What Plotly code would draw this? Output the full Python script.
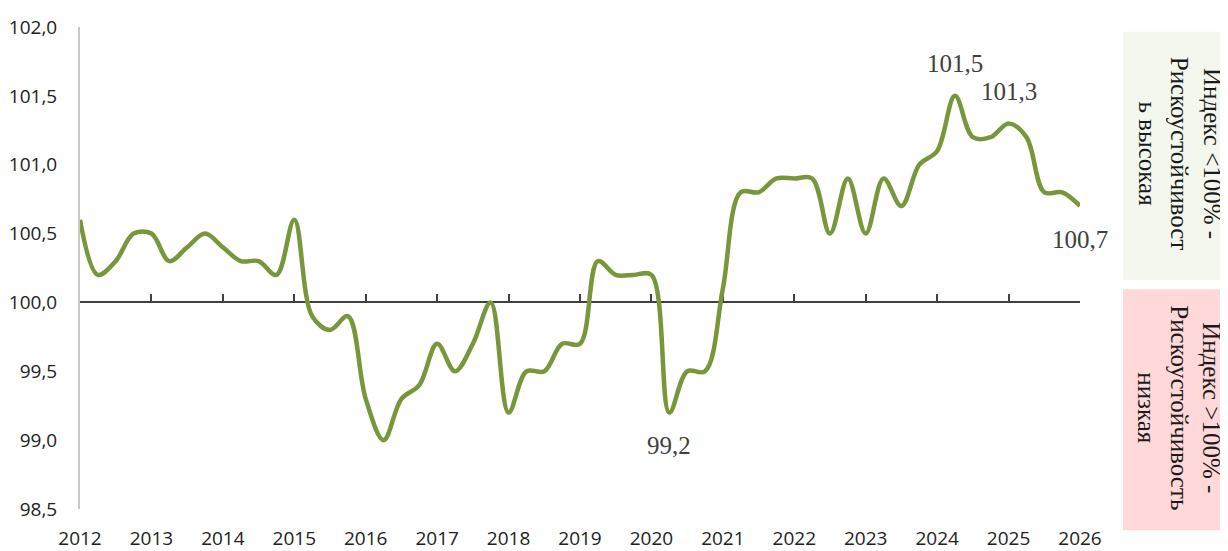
import pandas as pd
import plotly.graph_objects as go

# ---- data ----
quarters = pd.period_range("2012Q1", "2026Q1", freq="Q")
index_values = [
    100.6, 100.2, 100.3, 100.5,   # 2012
    100.5, 100.3, 100.4, 100.5,   # 2013
    100.4, 100.3, 100.3, 100.2,   # 2014
    100.6, 99.9, 99.8, 99.9,      # 2015
    99.3, 99.0, 99.3, 99.4,       # 2016
    99.7, 99.5, 99.7, 100.0,      # 2017
    99.2, 99.5, 99.5, 99.7,       # 2018
    99.7, 100.3, 100.2, 100.2,    # 2019
    100.2, 99.2, 99.5, 99.5,      # 2020
    100.1, 100.8, 100.8, 100.9,   # 2021
    100.9, 100.9, 100.5, 100.9,   # 2022
    100.5, 100.9, 100.7, 101.0,   # 2023
    101.1, 101.5, 101.2, 101.2,   # 2024
    101.3, 101.2, 100.8, 100.8,   # 2025
    100.7,                        # 2026
]
year_ticks = list(range(2012, 2027))
y_ticks = [98.5, 99.0, 99.5, 100.0, 100.5, 101.0, 101.5, 102.0]
labelled = {"2020Q2": "below", "2024Q2": "above", "2025Q1": "above", "2026Q1": "below"}
box_high = ["Индекс <100% -", "Рискоустойчивост", "ь высокая"]
box_low = ["Индекс >100% -", "Рискоустойчивость", "низкая"]

x_pos = [p.year + (p.quarter - 1) / 4 for p in quarters]

Y_MIN, Y_MAX = 98.5, 102.0
LINE_GREEN = "#77973A"

fig = go.Figure()
fig.add_trace(go.Scatter(
    x=x_pos, y=index_values, mode="lines",
    line=dict(color=LINE_GREEN, width=4.5, shape="spline", smoothing=1.0),
    cliponaxis=False, showlegend=False, hoverinfo="skip",
))
# dummy trace so the reference axis at 100 is drawn
fig.add_trace(go.Scatter(x=[], y=[], xaxis="x2", showlegend=False, hoverinfo="skip"))

def fmt(v):
    return f"{v:.1f}".replace(".", ",")

annotations = []
q_labels = [str(p) for p in quarters]
for q, pos in labelled.items():
    i = q_labels.index(q)
    annotations.append(dict(
        x=x_pos[i], y=index_values[i], xref="x", yref="y",
        text=fmt(index_values[i]), showarrow=False,
        xanchor="center", yanchor="middle",
        yshift=32 if pos == "above" else -33,
        font=dict(family="Liberation Serif", size=25, color="#404040"),
    ))

# side boxes
shapes = [
    dict(type="rect", xref="paper", yref="paper", x0=1.043, x1=1.16, y0=0.475, y1=0.99,
         fillcolor="#F4F7EE", line=dict(width=0), layer="below"),
    dict(type="rect", xref="paper", yref="paper", x0=1.043, x1=1.16, y0=-0.044, y1=0.456,
         fillcolor="#FFD9D9", line=dict(width=0), layer="below"),
]
for lines, yc in ((box_high, 0.738), (box_low, 0.21)):
    annotations.append(dict(
        x=1.0995, y=yc, xref="paper", yref="paper", text="<br>".join(lines),
        showarrow=False, textangle=90, align="center",
        xanchor="center", yanchor="middle",
        font=dict(family="Liberation Serif", size=25, color="#1a1a1a"),
    ))

# page body has an 8px margin: figure is sized so the plot lands where the reference has it
fig.update_layout(
    width=1220, height=543,
    margin=dict(l=72, r=148, t=19, b=42, autoexpand=False),
    paper_bgcolor="white", plot_bgcolor="white",
    showlegend=False,
    font=dict(family="Open Sans", size=19, color="#222222"),
    xaxis=dict(
        range=[2012, 2026], tickvals=year_ticks, ticktext=[str(y) for y in year_ticks],
        showline=False, showgrid=False, zeroline=False, automargin=False,
        ticks="outside", ticklen=12, tickcolor="rgba(0,0,0,0)",
        tickfont=dict(family="Open Sans", size=19, color="#222222"),
    ),
    xaxis2=dict(
        range=[2012, 2026], tickvals=year_ticks, overlaying="x", anchor="free",
        position=(100 - Y_MIN) / (Y_MAX - Y_MIN), automargin=False,
        showline=True, linecolor="#404040", linewidth=2,
        ticks="inside", ticklen=7, tickwidth=2, tickcolor="#404040",
        showticklabels=False, showgrid=False, zeroline=False, layer="below traces",
    ),
    yaxis=dict(
        range=[Y_MIN, Y_MAX], tickvals=y_ticks, ticktext=[fmt(v) for v in y_ticks],
        showline=True, linecolor="#C8C8C8", linewidth=2, showgrid=False, zeroline=False,
        ticks="outside", ticklen=17, tickcolor="rgba(0,0,0,0)", layer="below traces",
        automargin=False,
        tickfont=dict(family="Open Sans", size=19, color="#222222"),
    ),
    shapes=shapes,
    annotations=annotations,
)

fig.write_html("out.html")
